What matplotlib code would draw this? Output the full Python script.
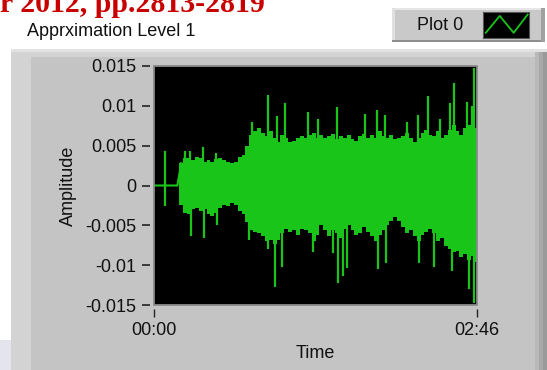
import numpy as np
import matplotlib
matplotlib.use("Agg")
from matplotlib import pyplot as plt
from matplotlib.patches import Rectangle

# envelope of the waveform, sampled every 2 s (values in 1e-3)
t_env = list(range(0, 168, 2))
upper = [0, 0, 0, 0, 0, 0, 0, 2.8, 3.5, 3.4, 3.2, 3.6, 3.4, 3.0, 3.2, 3.0, 3.3, 3.5, 3.2, 3.0,
         2.8, 3.0, 3.6, 3.8, 5.0, 6.3, 6.8, 7.2, 6.6, 6.2, 6.8, 6.0, 5.5, 6.4, 6.0, 5.4, 5.6, 6.0,
         6.2, 6.0, 6.3, 6.6, 6.0, 6.4, 6.0, 6.2, 6.5, 5.8, 6.2, 6.0, 6.4, 5.8, 5.6, 6.2, 6.5, 6.0,
         6.4, 6.0, 6.8, 6.2, 6.0, 6.4, 5.8, 6.0, 6.2, 6.6, 6.0, 5.4, 6.0, 6.6, 7.0, 6.4, 6.2, 6.8,
         6.0, 6.4, 7.0, 7.6, 6.8, 6.4, 7.2, 7.6, 7.0, 7.2]
lower = [0, 0, 0, 0, 0, 0, 0, -2.4, -3.4, -3.6, -3.0, -2.8, -3.2, -3.0, -3.6, -3.8, -3.4, -2.8,
         -2.4, -2.6, -2.2, -2.4, -3.2, -3.6, -4.6, -5.6, -5.8, -6.0, -6.4, -7.0, -6.8, -7.4, -6.8,
         -6.0, -5.4, -5.8, -5.6, -6.2, -5.4, -5.6, -6.0, -7.0, -6.2, -5.0, -5.6, -6.4, -5.6, -6.0,
         -6.6, -5.4, -5.0, -5.6, -6.2, -6.0, -5.2, -5.8, -6.4, -7.0, -6.2, -5.6, -5.0, -4.4, -4.0,
         -4.4, -5.2, -6.0, -5.6, -6.4, -7.0, -6.2, -5.8, -5.4, -6.0, -7.0, -6.6, -7.6, -8.0, -8.4,
         -8.2, -9.0, -8.6, -9.4, -8.8, -9.6]

# single spikes sticking out of the envelope (time s, value 1e-3)
spike_t = [5.7, 5.7, 15.9, 18.5, 19.0, 25.2, 25.7, 31.9, 32.4, 48.8, 50.4, 58.6, 58.6, 62.2,
           63.2, 65.8, 67.3, 79.2, 81.7, 84.3, 92.0, 94.1, 94.6, 97.1, 99.2, 108.5, 114.6,
           115.1, 118.7, 119.0, 130.0, 135.7, 136.2, 140.8, 144.0, 147.0, 152.1, 153.0, 154.2,
           160.9, 162.0, 163.4, 164.4, 164.6]
spike_v = [4.3, -2.6, 4.3, 4.3, -6.4, 4.8, -6.6, 4.1, -4.9, -6.8, 8.0, 11.4, -8.0, -12.7,
           8.7, -10.2, 10.4, 9.2, -8.4, 8.4, -8.5, 9.9, -12.2, -11.4, -10.3, 9.0, 9.5,
           -10.5, 8.8, -9.7, 8.0, 8.8, -9.7, 11.2, -10.2, 8.4, 10.4, -10.7, 12.9,
           10.5, -13.0, 10.0, 14.8, -14.7]

y_ticks = [0.015, 0.01, 0.005, 0, -0.005, -0.01, -0.015]
y_labels = ["0.015", "0.01", "0.005", "0", "-0.005", "-0.01", "-0.015"]
x_ticks = [0, 166]
x_labels = ["00:00", "02:46"]

W, H = 547, 370
green = "#19c519"
plt.rcParams['font.family'] = ['Liberation Sans', 'DejaVu Sans']


def fx(x):
    return x / W


def fy(y):
    return 1 - y / H


def box(x0, y0, x1, y1, c):
    fig.patches.append(Rectangle((fx(x0), fy(y1)), (x1 - x0) / W, (y1 - y0) / H,
                                 transform=fig.transFigure, color=c, lw=0, zorder=-5))


fig = plt.figure(figsize=(W / 100, H / 100), dpi=100, facecolor="white")

# grey LabVIEW panel with bevels
box(0, 340, 12, 370, "#e4e4ef")
box(11, 49, 547, 370, "#d3d3d3")
box(31, 57, 535, 370, "#c4c4c4")
box(11, 49, 547, 52, "#e2e2e2")
box(535, 52, 539, 370, "#b8b8b8")
box(539, 52, 543, 370, "#a8a8a8")
box(543, 52, 547, 370, "#9a9a9a")

# legend box
box(392, 8, 545, 42, "#c9c9c9")
box(392, 8, 545, 10, "#e6e6e6")
box(392, 8, 395, 42, "#e0e0e0")
box(392, 40, 545, 42, "#8e8e8e")
box(541, 8, 545, 42, "#a0a0a0")
fig.text(fx(417), fy(25), "Plot 0", fontsize=13, va="center", ha="left", color="#111111")
lax = fig.add_axes([fx(483), fy(38), (529 - 483) / W, (38 - 12) / H], zorder=5)
lax.set_facecolor("black")
lax.plot([0, 1, 2, 3], [0.2, 0.85, 0.2, 0.9], color=green, lw=1.3)
lax.set_xlim(-0.2, 3.1)
lax.set_ylim(0, 1)
lax.set_xticks([])
lax.set_yticks([])
for s in lax.spines.values():
    s.set_color("#555555")

# partly cut citation at the top
fig.text(0, fy(12), "r 2012, pp.2813-2819", fontsize=21.5, family="Liberation Serif",
         weight="bold", color="#c80000", va="baseline", ha="left")

fig.text(fx(27), fy(32), "Apprximation Level 1", fontsize=13, va="center", ha="left",
         color="#111111")

ax = fig.add_axes([fx(154), fy(305), (477 - 154) / W, (305 - 66) / H], zorder=5)
ax.set_facecolor("black")
t = np.array(t_env, dtype=float)
up = np.array(upper) / 1000
lo = np.array(lower) / 1000
ax.fill_between(t, lo, up, step="mid", color=green, lw=0)
ax.plot(t[:8], up[:8], color=green, lw=1.5)
ax.vlines(spike_t, 0, np.array(spike_v) / 1000, color=green, lw=1.6)
ax.set_xlim(0, 166)
ax.set_ylim(-0.015, 0.015)

ax.set_yticks(y_ticks)
ax.set_yticklabels(y_labels)
ax.set_xticks(x_ticks)
ax.set_xticklabels(x_labels)
for side in ["left", "bottom"]:
    ax.spines[side].set_position(("outward", 3))
for s in ax.spines.values():
    s.set_visible(False)
ax.tick_params(axis="y", direction="out", length=5.5, width=1.2, color="#222222",
               labelsize=13, pad=4, labelcolor="#111111")
ax.tick_params(axis="x", direction="out", length=5.5, width=1.0, color="#222222",
               labelsize=13, pad=4, labelcolor="#111111")
ax.add_patch(Rectangle((0, 0), 1, 1, transform=ax.transAxes, fill=False,
                       ec="#8a8a8a", lw=1.3, clip_on=False, zorder=5))

fig.text(fx(68), fy(186), "Amplitude", rotation=90, fontsize=13, va="center", ha="center",
         color="#111111")
fig.text(fx(315), fy(353), "Time", fontsize=13, va="center", ha="center", color="#111111")

fig.savefig("out.png", dpi=100, facecolor="white")
